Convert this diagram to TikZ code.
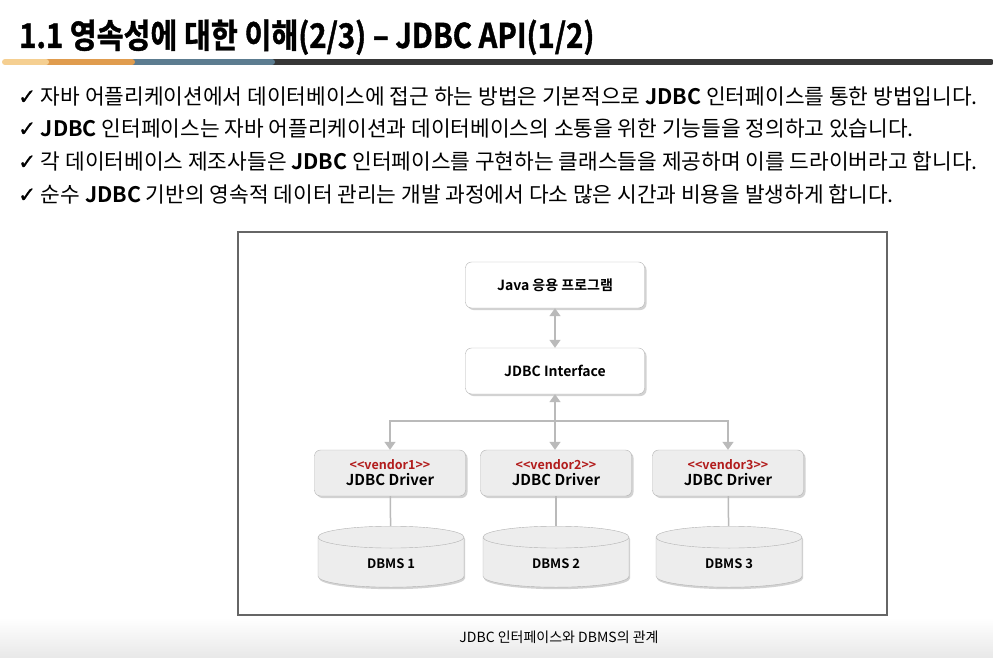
\documentclass[tikz,border=0pt]{standalone}
\usepackage{fontspec}
\setmainfont{Noto Sans CJK KR}[BoldFont={Noto Sans CJK KR Bold}]
\newfontfamily\titlefont{Noto Sans CJK KR Bold}[FakeStretch=0.86, FakeBold=1.2]
\newfontfamily\symfont{DejaVu Sans}[FakeBold=1]
\usepackage{xcolor}
\usetikzlibrary{arrows.meta, positioning, shapes.geometric, shadows}
\definecolor{barA}{RGB}{245,207,145}
\definecolor{barB}{RGB}{224,156,78}
\definecolor{barC}{RGB}{92,124,144}
\definecolor{barD}{RGB}{55,55,55}
\definecolor{vendorred}{RGB}{178,28,28}
\definecolor{linegray}{RGB}{186,186,186}
\tikzset{
  box/.style    = {rectangle, draw=black!30, fill=white, rounded corners=6pt,
                   minimum width=179pt, minimum height=46pt, align=center,
                   font=\bfseries\fontsize{14}{16}\selectfont,
                   drop shadow={shadow xshift=2pt, shadow yshift=-2pt, fill=black!35}},
  drvbox/.style = {box, fill=black!7, minimum width=151pt, inner sep=2pt,
                   font=\bfseries\fontsize{15}{16}\selectfont},
  dbms/.style   = {cylinder, shape border rotate=90, aspect=0.4, draw=black!30,
                   fill=black!7, minimum width=146pt, minimum height=61pt,
                   font=\bfseries\fontsize{13}{15}\selectfont, anchor=north,
                   drop shadow={shadow xshift=1pt, shadow yshift=-2pt, fill=black!35}},
  arrow/.style  = {line width=1.5pt, draw=linegray, -{Triangle[width=11pt,length=8pt]}},
  darrow/.style = {line width=1.5pt, draw=linegray,
                   {Triangle[width=11pt,length=8pt]}-{Triangle[width=11pt,length=8pt]}},
  conn/.style   = {line width=1.5pt, draw=linegray},
  bullet/.style = {anchor=west, inner sep=0pt, font=\fontsize{21.4}{24}\selectfont},
  bar/.style    = {line width=6pt, line cap=round},
}
\newcommand{\chk}{{\symfont ✓}\ }
\newcommand{\vendor}[1]{{\color{vendorred}\fontsize{12.5}{13}\selectfont {<}{<}vendor#1{>}{>}}}

\begin{document}
\begin{tikzpicture}[x=1pt, y=-1pt]
    \useasboundingbox (0,0) rectangle (993,658);
    \fill[white] (0,0) rectangle (993,658);
    \shade[top color=white, bottom color=black!9] (0,618) rectangle (993,658);

    %% ===================== TITLE =====================
    \node[anchor=base west, inner sep=0pt, font=\titlefont\fontsize{34}{36}\selectfont]
         (title) at (19,48) {1.1 영속성에 대한 이해(2/3) – JDBC API(1/2)};

    \draw[bar, barD] (272,62) -- (991,62);
    \draw[bar, barC] (132,62) -- (272,62);
    \draw[bar, barB] (46,62) -- (132,62);
    \draw[bar, barA] (5,62) -- (46,62);

    %% ===================== BULLETS =====================
    \node[bullet] (b1) at (18, 96) {\chk 자바 어플리케이션에서 데이터베이스에 접근 하는 방법은 기본적으로 \textbf{JDBC} 인터페이스를 통한 방법입니다.};
    \node[bullet] (b2) at (18,128) {\chk \textbf{JDBC} 인터페이스는 자바 어플리케이션과 데이터베이스의 소통을 위한 기능들을 정의하고 있습니다.};
    \node[bullet] (b3) at (18,161) {\chk 각 데이터베이스 제조사들은 \textbf{JDBC} 인터페이스를 구현하는 클래스들을 제공하며 이를 드라이버라고 합니다.};
    \node[bullet] (b4) at (18,194) {\chk 순수 \textbf{JDBC} 기반의 영속적 데이터 관리는 개발 과정에서 다소 많은 시간과 비용을 발생하게 합니다.};

    %% ===================== DIAGRAM =====================
    \draw[draw=black!60, line width=2pt, fill=white] (238,232) rectangle (887,615);

    \node[box] (app)  at (555,285) {Java 응용 프로그램};
    \node[box] (jdbc) at (555,371) {JDBC Interface};

    \node[drvbox] (drv1) at (390,473) {\vendor{1}\\JDBC Driver};
    \node[drvbox] (drv2) at (556,473) {\vendor{2}\\JDBC Driver};
    \node[drvbox] (drv3) at (728,473) {\vendor{3}\\JDBC Driver};

    \node[dbms] (db1) at (391,526) {DBMS 1};
    \node[dbms] (db2) at (556,526) {DBMS 2};
    \node[dbms] (db3) at (729,526) {DBMS 3};

    \coordinate (bus) at (555,421);

    \draw[darrow] (app) -- (jdbc);
    \draw[darrow] (jdbc.south) -- (drv2.north -| jdbc.south);
    \draw[arrow] (bus) -| (drv1);
    \draw[arrow] (bus) -| (drv3);

    \draw[conn] (drv1) -- (db1);
    \draw[conn] (drv2) -- (db2);
    \draw[conn] (drv3) -- (db3);

    \node[font=\fontsize{14}{16}\selectfont] (cap) at (559,637) {JDBC 인터페이스와 DBMS의 관계};
\end{tikzpicture}
\end{document}
